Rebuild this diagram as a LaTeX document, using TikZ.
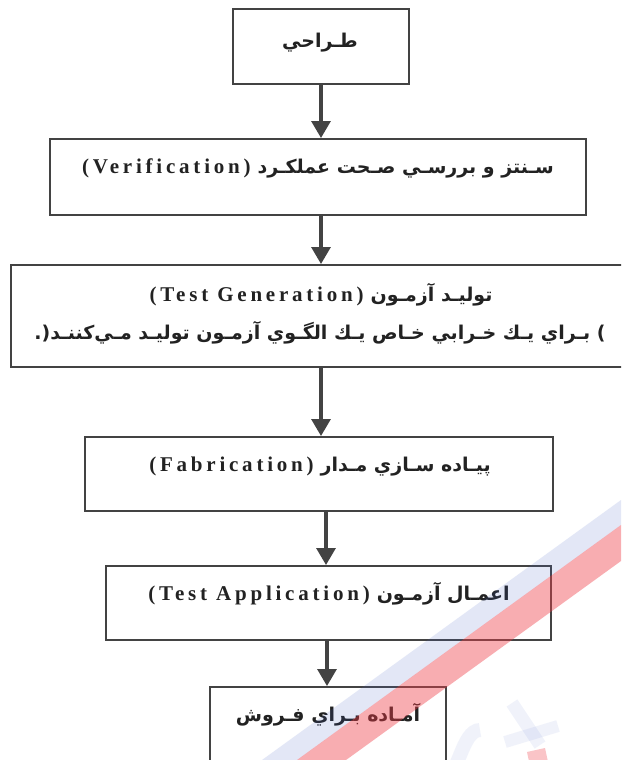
\documentclass[tikz,border=0pt]{standalone}
\usepackage{fontspec}
\setmainfont{Liberation Serif}
\newfontfamily\arfont[Script=Arabic]{DejaVu Sans}
\newfontfamily\latfont[LetterSpace=18]{Liberation Serif}
\TeXXeTstate=1
\usetikzlibrary{arrows.meta}
\definecolor{linec}{HTML}{434343}
\definecolor{txtc}{HTML}{222222}
\definecolor{wmred}{RGB}{240,60,70}
\definecolor{wmblue}{RGB}{70,100,200}
\newcommand{\artxt}[1]{{\arfont\bfseries\fontsize{19}{22}\selectfont\beginR #1\endR}}
\newcommand{\lattxt}[1]{{\latfont\bfseries\fontsize{21}{24}\selectfont #1}}
\newcommand{\gap}{\hspace{7pt}}
\begin{document}
\begin{tikzpicture}[x=1pt,y=-1pt,
  box/.style={draw=linec, line width=2pt, inner sep=0pt, fill=white},
  lbl/.style={inner sep=0pt, text=txtc, anchor=center},
  arr/.style={draw=linec, line width=3.2pt, -{Triangle[width=19pt,length=17pt]}},
  wm/.style={opacity=0.42, fill=wmred},
  wmb/.style={opacity=0.15, fill=wmblue}]
\useasboundingbox (0,0) rectangle (621,760);
\clip (0,0) rectangle (621,760);
\fill[white] (0,0) rectangle (621,760);
% boxes
\node[box, minimum width=176pt, minimum height=75pt] (b1) at (321,46.5) {};
\node[box, minimum width=536pt, minimum height=76pt] (b2) at (318,177) {};
\node[box, minimum width=620pt, minimum height=102pt] (b3) at (321,316) {};
\node[box, minimum width=468pt, minimum height=74pt] (b4) at (319,474) {};
\node[box, minimum width=445pt, minimum height=74pt] (b5) at (328.5,603) {};
\node[box, minimum width=236pt, minimum height=103pt] (b6) at (328,738.5) {};
% labels
\node[lbl] (t1) at (320,43) {\artxt{طـراحي}};
\node[lbl] (t2) at (318,168) {\lattxt{(Verification)}\gap\artxt{سـنتز و بررسـي صـحت عملكـرد}};
\node[lbl] (t3a) at (321,295) {\lattxt{(Test Generation)}\gap\artxt{توليـد آزمـون}};
\node[lbl] (t3b) at (320,333) {{\arfont\bfseries\fontsize{19}{22}\selectfont (.\beginR بـراي يـك خـرابي خـاص يـك الگـوي آزمـون توليـد مـي‌كننـد\endR\ )}};
\node[lbl] (t4) at (320,467) {\lattxt{(Fabrication)}\gap\artxt{پيـاده سـازي مـدار}};
\node[lbl] (t5) at (329,594) {\lattxt{(Test Application)}\gap\artxt{اعمـال آزمـون}};
\node[lbl] (t6) at (328,715) {\artxt{آمـاده بـراي فـروش}};
% arrows
\draw[arr] (b1.south) -- (b1.south |- b2.north);
\draw[arr] (b3.north |- b2.south) -- (b3.north);
\draw[arr] (b3.south) -- (b3.south |- b4.north);
\coordinate (c4) at (326,0);
\draw[arr] (c4 |- b4.south) -- (c4 |- b5.north);
\coordinate (c5) at (327,0);
\draw[arr] (c5 |- b5.south) -- (c5 |- b6.north);
% watermark
\fill[wmb] (621,500) -- (262,760) -- (297,760) -- (621,525) -- cycle;
\fill[wm] (621,525) -- (297,760) -- (346,760) -- (621,561) -- cycle;
\draw[wmblue, opacity=0.08, line width=14pt] (448,766) to[out=-60,in=180] (480,730);
\draw[wmblue, opacity=0.08, line width=13pt] (512,703) -- (540,745);
\draw[wmblue, opacity=0.08, line width=12pt] (505,742) -- (558,726);
\fill[wmred, opacity=0.3] (527,752) -- (545,748) -- (548,762) -- (530,766) -- cycle;
\end{tikzpicture}
\end{document}
